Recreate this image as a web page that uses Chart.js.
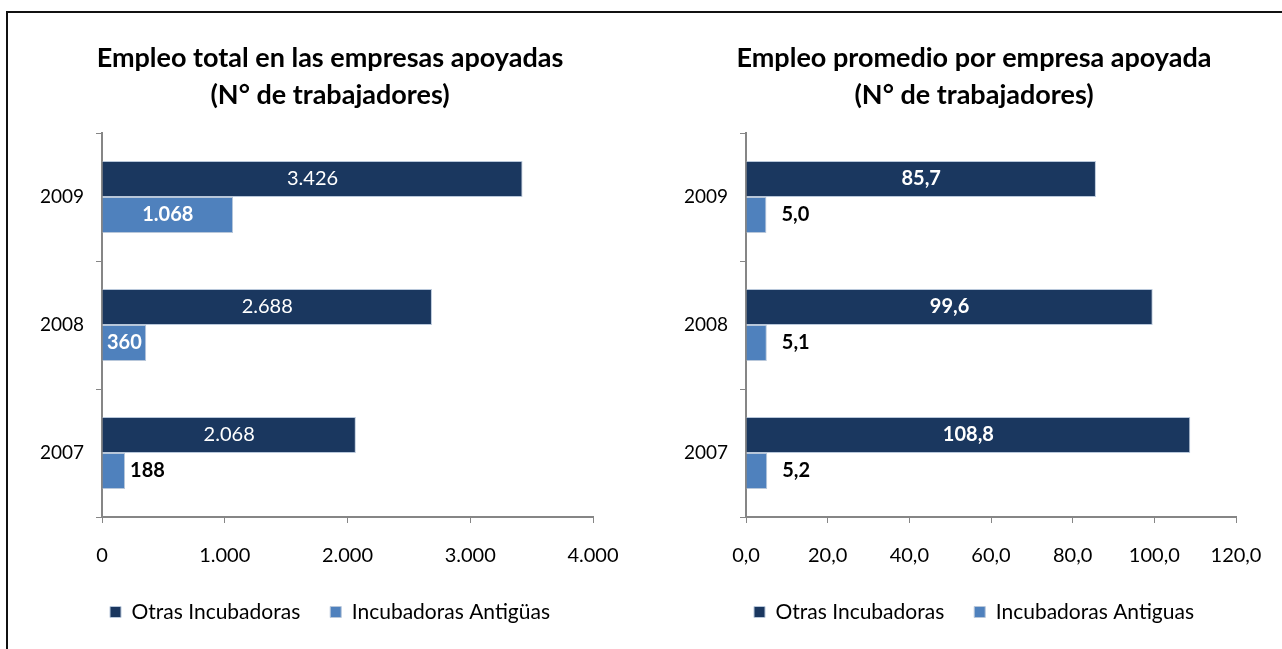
<!DOCTYPE html>
<html><head><meta charset="utf-8">
<script src="https://cdn.jsdelivr.net/npm/chart.js@4.4.0/dist/chart.umd.min.js"></script>
<style>
html,body{margin:0;padding:0;background:#fff;width:1282px;height:649px;overflow:hidden;position:relative;}
#frame{position:absolute;left:6px;top:11px;width:1400px;height:800px;border-left:2px solid #111;border-top:2px solid #111;}
#c1{position:absolute;left:0;top:0;}
#c2{position:absolute;left:662px;top:0;}
</style></head><body>
<div id="frame"></div>
<canvas id="c1" width="660" height="649"></canvas>
<canvas id="c2" width="624" height="649"></canvas>
<script>
const years = ['2009','2008','2007'];
const seriesNames1 = ['Otras Incubadoras','Incubadoras Antigüas'];
const seriesNames2 = ['Otras Incubadoras','Incubadoras Antiguas'];
const totalOtras = [3426, 2688, 2068];
const totalAntiguas = [1068, 360, 188];
const promOtras = [85.7, 99.6, 108.8];
const promAntiguas = [5.0, 5.1, 5.2];
const ticks1 = ['0','1.000','2.000','3.000','4.000'];
const ticks2 = ['0,0','20,0','40,0','60,0','80,0','100,0','120,0'];
const title1 = ['Empleo total en las empresas apoyadas','(N° de trabajadores)'];
const title2 = ['Empleo promedio por empresa apoyada','(N° de trabajadores)'];

const DARK = '#1a375f';
const LIGHT = '#4f81bd';
const AXIS = '#868686';
const FONT = 'Lato';

const fmtThousands = n => String(n).replace(/\B(?=(\d{3})+(?!\d))/g, '.');
const fmtDecimal = n => n.toFixed(1).replace('.', ',');

const valueLabels = {
  id: 'valueLabels',
  afterDatasetsDraw(chart, args, opts) {
    const ctx = chart.ctx;
    chart.data.datasets.forEach((ds, di) => {
      const meta = chart.getDatasetMeta(di);
      const st = opts.styles[di];
      meta.data.forEach((el, i) => {
        const txt = opts.format(ds.data[i]);
        ctx.save();
        ctx.font = (st.bold ? 'bold ' : '') + '20px ' + FONT;
        const w = ctx.measureText(txt).width;
        const barW = Math.abs(el.x - el.base);
        ctx.textBaseline = 'middle';
        let x;
        if (!st.outside && w + 6 <= barW) {
          x = (el.x + el.base) / 2; ctx.textAlign = 'center'; ctx.fillStyle = '#fff';
        } else {
          x = el.x + opts.outsideOffset; ctx.textAlign = 'left'; ctx.fillStyle = '#000';
        }
        ctx.fillText(txt, x, el.y);
        ctx.restore();
      });
    });
  }
};

function makeChart(id, names, dark, light, max, step, tickLabels, title, fmt, styles, outsideOffset, yWidth, rightWidth) {
  return new Chart(document.getElementById(id), {
    type: 'bar',
    data: {
      labels: years,
      datasets: [
        { label: names[0], data: dark, backgroundColor: DARK, borderColor: '#b8c7da', borderWidth: 1, borderSkipped: 'start', yAxisID: 'y' },
        { label: names[1], data: light, backgroundColor: LIGHT, borderColor: '#b8c7da', borderWidth: 1, borderSkipped: 'start', yAxisID: 'y' }
      ]
    },
    options: {
      indexAxis: 'y',
      responsive: false,
      animation: false,
      categoryPercentage: 0.5625,
      barPercentage: 1,
      layout: { padding: { left: 0, right: 0, top: 0, bottom: 16.5 } },
      scales: {
        x: {
          min: 0, max: max,
          ticks: { stepSize: step, color: '#000', font: { family: FONT, size: 20 }, padding: 21,
                   callback: (v, i) => tickLabels[i] },
          grid: { drawOnChartArea: false, drawTicks: true, tickLength: 6, color: AXIS, lineWidth: 1 },
          border: { color: AXIS, width: 2 },
          afterFit: s => { s.height = 54.5; }
        },
        y: {
          ticks: { color: '#000', font: { family: FONT, size: 19 }, padding: 12 },
          grid: { drawOnChartArea: false, drawTicks: true, tickLength: 6, color: AXIS, lineWidth: 1, offset: true },
          border: { color: AXIS, width: 2 },
          afterFit: s => { s.width = yWidth; }
        },
        yRight: {
          type: 'category', position: 'right', display: true,
          ticks: { display: false }, grid: { display: false }, border: { display: false },
          afterFit: s => { s.width = rightWidth; }
        }
      },
      plugins: {
        title: { display: true, text: title, color: '#000',
                 font: { family: FONT, size: 27, weight: 'bold', lineHeight: '37px' },
                 padding: { top: 39.5, bottom: 19.5 } },
        legend: { position: 'bottom',
                  labels: { color: '#000', font: { family: FONT, size: 21 }, boxWidth: 11, boxHeight: 11, padding: 30 } },
        tooltip: { enabled: false },
        valueLabels: { format: fmt, styles: styles, outsideOffset: outsideOffset }
      }
    },
    plugins: [valueLabels]
  });
}

makeChart('c1', seriesNames1, totalOtras, totalAntiguas, 4000, 1000, ticks1, title1, fmtThousands,
  [{ bold: false }, { bold: true }], 5, 102, 67);
makeChart('c2', seriesNames2, promOtras, promAntiguas, 120, 20, ticks2, title2, fmtDecimal,
  [{ bold: true }, { bold: true, outside: true }], 15, 84, 50);
</script>
</body></html>
